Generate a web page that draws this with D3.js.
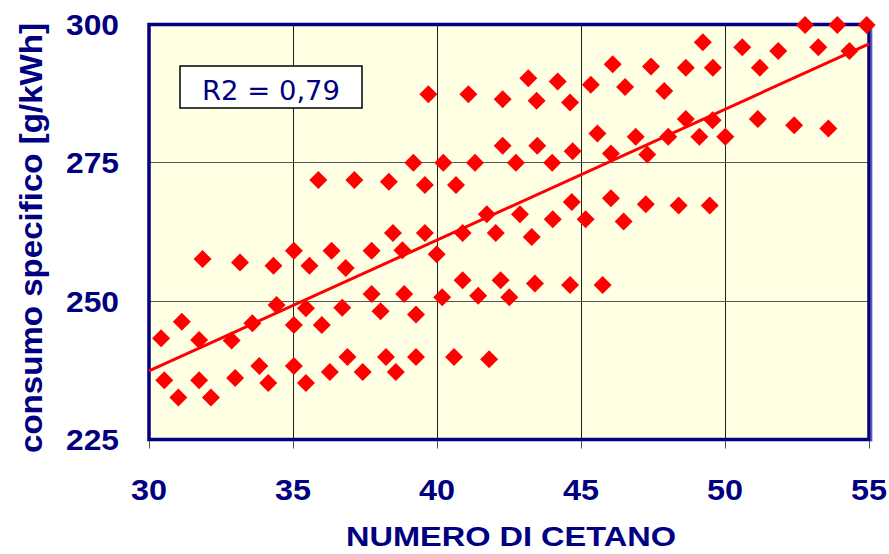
<!DOCTYPE html>
<html>
<head>
<meta charset="utf-8">
<script src="https://cdn.jsdelivr.net/npm/d3@7"></script>
<style>
  html, body { margin: 0; padding: 0; background: #ffffff; }
  svg { display: block; }
</style>
</head>
<body>
<svg id="chart" width="889" height="554"></svg>
<script>
// ---- data ----
const cetano = [35.88, 37.13, 38.33, 39.70, 41.09, 42.28, 43.17, 43.46, 44.19, 44.62,
  45.34, 46.10, 46.53, 45.57, 42.28, 43.48, 44.71, 46.04, 39.18, 40.22,
  41.32, 42.74, 44.00, 39.58, 40.66, 41.73, 42.88, 44.02, 44.68, 45.16,
  46.04, 46.48, 52.78, 53.90, 54.92, 49.23, 50.60, 51.85, 53.24, 54.32,
  47.43, 48.64, 49.58, 51.21, 47.89, 46.90, 48.64, 49.57, 48.03, 49.11,
  50.01, 51.14, 52.40, 53.59, 47.30, 47.25, 48.39, 49.47, 31.86, 33.16,
  34.32, 35.03, 35.57, 36.34, 36.83, 37.73, 38.47, 34.43, 35.45, 36.71,
  37.73, 38.04, 31.14, 30.42, 31.74, 32.87, 33.59, 35.03, 36.00, 30.53,
  31.74, 32.99, 33.83, 34.14, 35.03, 35.45, 36.28, 36.89, 37.42, 38.23,
  31.02, 32.15, 39.58, 40.89, 42.04, 43.29, 38.80, 39.99, 40.89, 42.21,
  43.40, 44.62, 45.75, 38.86, 40.18, 41.43, 42.51, 39.27, 38.57, 39.27,
  40.59, 41.81];
const consumo = [271.9, 271.9, 271.6, 287.4, 287.4, 286.5, 290.3, 286.2, 289.7, 285.9,
  289.1, 292.8, 288.7, 280.3, 278.1, 278.1, 277.1, 276.7, 275.0, 275.0,
  275.0, 275.0, 275.0, 271.0, 271.0, 265.7, 265.7, 264.8, 267.9, 264.8,
  268.6, 264.4, 299.9, 299.9, 299.9, 296.8, 295.9, 295.2, 295.9, 295.2,
  292.4, 292.2, 292.2, 292.2, 288.0, 279.7, 282.9, 282.7, 279.7, 279.7,
  279.7, 282.9, 281.8, 281.2, 276.5, 267.5, 267.3, 267.3, 257.6, 257.0,
  256.4, 259.1, 256.4, 259.1, 256.0, 259.1, 262.3, 249.3, 248.7, 248.8,
  251.3, 248.2, 246.3, 243.3, 243.0, 242.9, 246.0, 245.7, 245.7, 235.7,
  235.7, 236.1, 238.3, 235.2, 238.3, 235.2, 237.2, 239.9, 237.2, 239.9,
  232.6, 232.6, 262.3, 262.3, 262.3, 261.6, 259.2, 258.5, 253.8, 253.8,
  253.2, 252.9, 252.9, 251.3, 250.7, 251.0, 250.7, 247.6, 237.2, 239.9,
  239.9, 239.5];
const trendX = [30, 55];
const trendY = [237.4, 296.5];
const xTicks = [30, 35, 40, 45, 50, 55];
const yTicks = [225, 250, 275, 300];
const xTitle = "NUMERO DI CETANO";
const yTitle = "consumo specifico [g/kWh]";
const r2Label = "R2 = 0,79";

// ---- layout ----
const L = 149, R = 869, T = 24.5, B = 439.5;
const navy = "#000080";
const svg = d3.select("#chart");

const x = d3.scaleLinear().domain([30, 55]).range([L, R]);
const y = d3.scaleLinear().domain([225, 300]).range([B, T]);

// plot background
svg.append("rect").attr("x", L).attr("y", T).attr("width", R - L).attr("height", B - T)
  .attr("fill", "#ffffe3");

// grid lines
svg.append("g").selectAll("line").data(xTicks.slice(1, -1)).join("line")
  .attr("x1", d => x(d)).attr("x2", d => x(d)).attr("y1", T).attr("y2", B)
  .attr("stroke", "#222").attr("stroke-width", 1).attr("shape-rendering", "crispEdges");
svg.append("g").selectAll("line").data(yTicks.slice(1, -1)).join("line")
  .attr("x1", L).attr("x2", R).attr("y1", d => y(d)).attr("y2", d => y(d))
  .attr("stroke", "#555").attr("stroke-width", 1.3).attr("shape-rendering", "crispEdges");

// x axis ticks (below frame)
const xAxis = d3.axisBottom(x).tickValues(xTicks).tickSize(9).tickFormat("");
const gx = svg.append("g").attr("transform", `translate(0,${B})`).call(xAxis);
gx.select(".domain").remove();
gx.selectAll(".tick line").attr("stroke", "#555").attr("stroke-width", 1);

// x tick labels
svg.append("g").selectAll("text").data(xTicks).join("text")
  .attr("x", d => x(d)).attr("y", 500)
  .attr("text-anchor", "middle")
  .attr("font-family", "Liberation Sans, Arial, sans-serif")
  .attr("font-weight", "bold").attr("font-size", 30).attr("fill", navy)
  .attr("textLength", 36).attr("lengthAdjust", "spacingAndGlyphs")
  .text(d => d);

// y tick labels
svg.append("g").selectAll("text").data(yTicks).join("text")
  .attr("x", 119).attr("y", d => y(d) + 10.5)
  .attr("text-anchor", "end")
  .attr("font-family", "Liberation Sans, Arial, sans-serif")
  .attr("font-weight", "bold").attr("font-size", 29).attr("fill", navy)
  .attr("textLength", 53).attr("lengthAdjust", "spacingAndGlyphs")
  .text(d => d);

// frame
svg.append("rect").attr("x", L).attr("y", T).attr("width", R - L).attr("height", B - T)
  .attr("fill", "none").attr("stroke", navy).attr("stroke-width", 3.5);
svg.append("line").attr("x1", R + 2.6).attr("x2", R + 2.6).attr("y1", T).attr("y2", B + 2)
  .attr("stroke", "#5a5ab4").attr("stroke-width", 1.5);

// trend line
svg.append("line")
  .attr("x1", x(trendX[0])).attr("y1", y(trendY[0]))
  .attr("x2", x(trendX[1])).attr("y2", y(trendY[1]))
  .attr("stroke", "#ff0000").attr("stroke-width", 3);

// points (diamonds)
const h = 9;
svg.append("g").selectAll("path").data(d3.range(cetano.length)).join("path")
  .attr("d", i => {
    const cx = x(cetano[i]), cy = y(consumo[i]);
    return `M${cx},${cy - h}L${cx + h},${cy}L${cx},${cy + h}L${cx - h},${cy}Z`;
  })
  .attr("fill", "#ff0000");

// R2 box
svg.append("rect").attr("x", 180).attr("y", 66).attr("width", 182).attr("height", 42)
  .attr("fill", "#ffffff").attr("stroke", "#000").attr("stroke-width", 1.5);
svg.append("text").attr("x", 271).attr("y", 99.5)
  .attr("text-anchor", "middle")
  .attr("font-family", "DejaVu Sans, Verdana, sans-serif")
  .attr("font-size", 27).attr("fill", navy)
  .attr("textLength", 138).attr("lengthAdjust", "spacingAndGlyphs")
  .text(r2Label);

// axis titles
svg.append("text").attr("x", 511).attr("y", 546)
  .attr("text-anchor", "middle")
  .attr("font-family", "Liberation Sans, Arial, sans-serif")
  .attr("font-weight", "bold").attr("font-size", 27).attr("fill", navy)
  .attr("textLength", 330).attr("lengthAdjust", "spacingAndGlyphs")
  .text(xTitle);
svg.append("text")
  .attr("transform", "translate(42,238) rotate(-90)")
  .attr("text-anchor", "middle")
  .attr("font-family", "Liberation Sans, Arial, sans-serif")
  .attr("font-weight", "bold").attr("font-size", 32).attr("fill", navy)
  .attr("textLength", 430).attr("lengthAdjust", "spacingAndGlyphs")
  .text(yTitle);
</script>
</body>
</html>
